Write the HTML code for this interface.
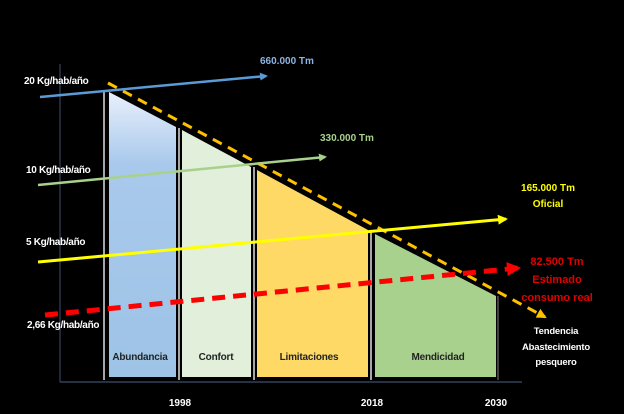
<!DOCTYPE html>
<html><head><meta charset="utf-8"><style>
html,body{margin:0;padding:0;background:#000;}
svg{display:block;font-family:"Liberation Sans",sans-serif;font-weight:bold;}
</style></head><body>
<svg width="624" height="414" viewBox="0 0 624 414" xmlns="http://www.w3.org/2000/svg">
<defs>
<linearGradient id="bg" x1="0" y1="0" x2="0" y2="1">
<stop offset="0" stop-color="#e8f0fb"/><stop offset="0.25" stop-color="#a9c9ec"/><stop offset="1" stop-color="#9dc3e6"/>
</linearGradient>
<marker id="ab" markerWidth="8" markerHeight="8" refX="6" refY="4" orient="auto" markerUnits="userSpaceOnUse"><path d="M0,0 L8,4 L0,8 z" fill="#5b9bd5"/></marker>
<marker id="ag" markerWidth="8" markerHeight="8" refX="6" refY="4" orient="auto" markerUnits="userSpaceOnUse"><path d="M0,0 L8,4 L0,8 z" fill="#a9d18e"/></marker>
<marker id="ay" markerWidth="10" markerHeight="10" refX="8" refY="5" orient="auto" markerUnits="userSpaceOnUse"><path d="M0,0 L10,5 L0,10 z" fill="#ffff00"/></marker>
<marker id="ar" markerWidth="14" markerHeight="14" refX="11" refY="7" orient="auto" markerUnits="userSpaceOnUse"><path d="M0,0 L14,7 L0,14 z" fill="#ff0000"/></marker>
<marker id="ao" markerWidth="10" markerHeight="10" refX="8" refY="5" orient="auto" markerUnits="userSpaceOnUse"><path d="M0,0 L10,5 L0,10 z" fill="#ffc000"/></marker>
</defs>
<rect width="624" height="414" fill="#000"/>
<line x1="60" y1="64" x2="60" y2="382" stroke="#33435a" stroke-width="1.2"/>
<line x1="60" y1="382" x2="522" y2="382" stroke="#33435a" stroke-width="1.5"/>
<polygon points="109,92 176,127 176,377 109,377" fill="url(#bg)"/>
<polygon points="182,130 251,167 251,377 182,377" fill="#e2efda"/>
<polygon points="257,170 368,230 368,377 257,377" fill="#ffd966"/>
<polygon points="375,234 496,296 496,377 375,377" fill="#a9d18e"/>
<g stroke="#ddd" stroke-width="1.5">
<line x1="104" y1="90" x2="104" y2="380"/>
<line x1="179" y1="128" x2="179" y2="380"/>
<line x1="254" y1="167" x2="254" y2="380"/>
<line x1="371" y1="231" x2="371" y2="380"/>
<line x1="498" y1="296" x2="498" y2="380" stroke="#555"/>
</g>
<line x1="108" y1="83" x2="545" y2="317" stroke="#ffc000" stroke-width="3" stroke-dasharray="10,7" marker-end="url(#ao)"/>
<line x1="40" y1="97" x2="266" y2="76" stroke="#5b9bd5" stroke-width="2.5" marker-end="url(#ab)"/>
<line x1="38" y1="185" x2="325" y2="157" stroke="#a9d18e" stroke-width="2.5" marker-end="url(#ag)"/>
<line x1="38" y1="262" x2="506" y2="219" stroke="#ffff00" stroke-width="3" marker-end="url(#ay)"/>
<line x1="45" y1="315" x2="518" y2="268" stroke="#ff0000" stroke-width="5" stroke-dasharray="13,8" marker-end="url(#ar)"/>
<g fill="#fff" font-size="10" letter-spacing="-0.3">
<text x="24" y="84">20 Kg/hab/año</text>
<text x="26" y="173">10 Kg/hab/año</text>
<text x="26" y="245">5 Kg/hab/año</text>
<text x="27" y="328">2,66 Kg/hab/año</text>
</g>
<text x="260" y="64" fill="#8db4e2" font-size="10">660.000 Tm</text>
<text x="320" y="141" fill="#a9d18e" font-size="10">330.000 Tm</text>
<g fill="#ffff00" font-size="10" text-anchor="middle">
<text x="548" y="191">165.000 Tm</text>
<text x="548" y="207">Oficial</text>
</g>
<g fill="#e00000" font-size="11" text-anchor="middle">
<text x="557" y="265">82.500 Tm</text>
<text x="557" y="283">Estimado</text>
<text x="557" y="301">consumo real</text>
</g>
<g fill="#fff" font-size="9.5" text-anchor="middle" letter-spacing="-0.2">
<text x="556" y="334">Tendencia</text>
<text x="556" y="350">Abastecimiento</text>
<text x="556" y="365">pesquero</text>
</g>
<g fill="#222" font-size="10" text-anchor="middle" letter-spacing="-0.2">
<text x="140" y="360">Abundancia</text>
<text x="216" y="360">Confort</text>
<text x="309" y="360">Limitaciones</text>
<text x="438" y="360">Mendicidad</text>
</g>
<g fill="#fff" font-size="10" text-anchor="middle">
<text x="180" y="406">1998</text>
<text x="372" y="406">2018</text>
<text x="496" y="406">2030</text>
</g>
</svg>
</body></html>
